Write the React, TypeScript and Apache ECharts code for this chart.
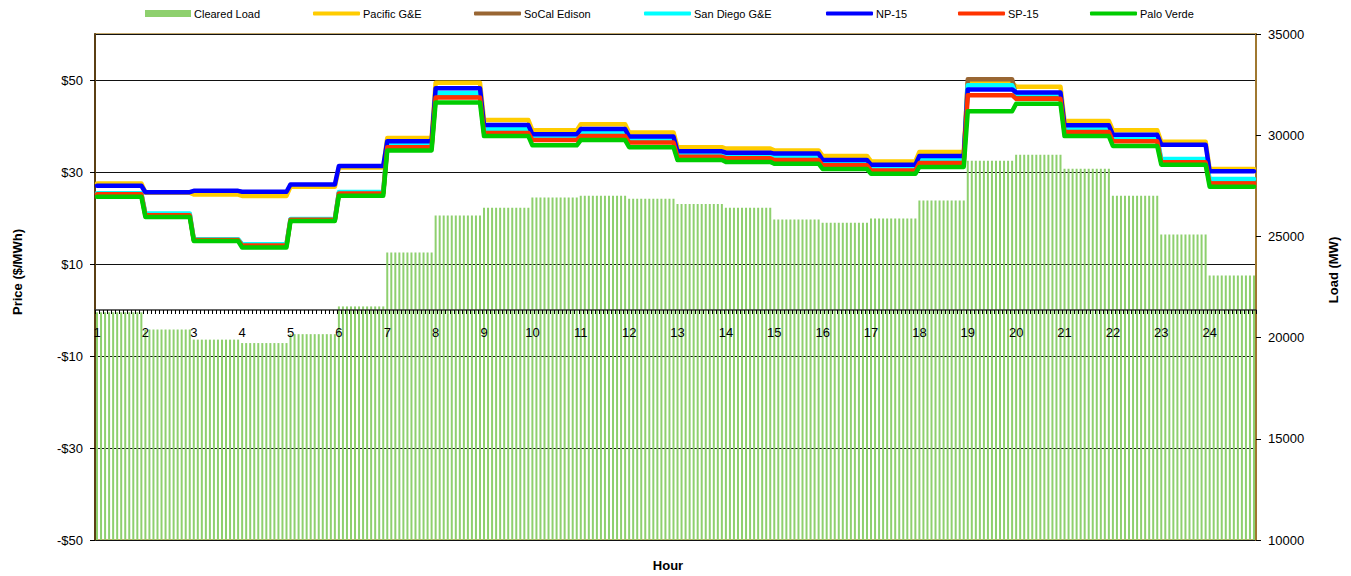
import React, { useEffect, useRef } from "react";
import * as echarts from "echarts";

// ---- data (hourly) ----
const HOURS = ["1", "2", "3", "4", "5", "6", "7", "8", "9", "10", "11", "12", "13", "14", "15", "16", "17", "18", "19", "20", "21", "22", "23", "24"];
const SLOTS_PER_HOUR = 12; // 5-minute intervals

const clearedLoad = [21250, 20400, 19900, 19730, 20170, 21540, 24200, 26030, 26420, 26920, 27010, 26860, 26600, 26420, 25840, 25680, 25880, 26770, 28740, 29030, 28340, 27010, 25090, 23070];
const pacificGE = [27.5, 25.5, 25.1, 24.8, 26.8, 31.0, 37.4, 49.4, 41.3, 39.05, 40.4, 38.6, 35.4, 35.1, 34.7, 33.5, 32.3, 34.35, 49.4, 48.55, 41.1, 39.05, 36.6, 30.65];
const soCalEdison = [25.2, 20.8, 15.3, 14.2, 19.7, 25.5, 35.7, 46.8, 38.9, 37.2, 38.2, 36.7, 33.6, 33.3, 32.9, 31.7, 30.6, 32.3, 50.15, 46.3, 39.0, 37.0, 32.4, 28.0];
const sanDiegoGE = [25.4, 21.0, 15.4, 14.3, 19.8, 25.65, 35.95, 47.2, 39.3, 37.5, 38.6, 36.95, 33.9, 33.65, 33.2, 31.96, 30.9, 32.6, 48.85, 47.0, 39.4, 37.4, 32.8, 28.5];
const np15 = [27.0, 25.6, 25.9, 25.7, 27.3, 31.3, 36.7, 48.2, 40.2, 38.2, 39.35, 37.7, 34.5, 34.2, 34.0, 32.6, 31.6, 33.5, 47.95, 47.3, 40.15, 38.1, 35.95, 30.15];
const sp15 = [25.15, 20.6, 15.2, 14.0, 19.6, 25.3, 35.4, 46.2, 38.5, 36.95, 37.8, 36.4, 33.3, 33.0, 32.6, 31.45, 30.35, 31.96, 46.7, 45.9, 38.7, 36.7, 32.1, 27.5];
const paloVerde = [24.6, 20.2, 15.0, 13.6, 19.35, 24.85, 34.7, 45.1, 37.8, 35.8, 36.95, 35.4, 32.6, 32.2, 31.8, 30.65, 29.6, 31.1, 43.2, 44.85, 37.8, 35.65, 31.6, 26.8];

const PRICE_TICKS_FROM = -50; // left axis labels at -50, -30, ..., 50

const FONT = "Liberation Sans, Arial, sans-serif";

// expand hourly values to 5-minute slots (each hour's value held for its 12 slots)
const toSlots = (hourly: number[]) => hourly.flatMap((v) => Array(SLOTS_PER_HOUR).fill(v));
const categories = HOURS.flatMap((h) => [h, ...Array(SLOTS_PER_HOUR - 1).fill("")]);

const fmtPrice = (v: number) => (v < 0 ? "-$" + Math.abs(v) : "$" + v);

const LINE_SERIES = [
  { name: "Pacific G&E", data: pacificGE, color: "#FFCC00" },
  { name: "SoCal Edison", data: soCalEdison, color: "#996633" },
  { name: "San Diego G&E", data: sanDiegoGE, color: "#00FFFF" },
  { name: "NP-15", data: np15, color: "#0000FF" },
  { name: "SP-15", data: sp15, color: "#FF3300" },
  { name: "Palo Verde", data: paloVerde, color: "#00CC00" },
];

const LEGENDS = [
  { name: "Cleared Load", left: 145, icon: "rect", w: 46, h: 7 },
  { name: "Pacific G&E", left: 313, icon: "roundRect", w: 47, h: 4 },
  { name: "SoCal Edison", left: 474, icon: "roundRect", w: 47, h: 4 },
  { name: "San Diego G&E", left: 644, icon: "roundRect", w: 47, h: 4 },
  { name: "NP-15", left: 826, icon: "roundRect", w: 47, h: 4 },
  { name: "SP-15", left: 958, icon: "roundRect", w: 47, h: 4 },
  { name: "Palo Verde", left: 1090, icon: "roundRect", w: 47, h: 4 },
];

export default function App() {
  const ref = useRef<HTMLDivElement>(null);

  useEffect(() => {
    document.body.style.margin = "0";
    if (!ref.current) return;
    const chart = echarts.init(ref.current, undefined, { renderer: "svg" });

    const option: any = {
      animation: false,
      backgroundColor: "#fff",
      textStyle: { fontFamily: FONT },
      legend: LEGENDS.map((l) => ({
        data: [l.name],
        left: l.left,
        top: 8,
        icon: l.icon,
        itemWidth: l.w,
        itemHeight: l.h,
        padding: 0,
        selectedMode: false,
        textStyle: { fontFamily: FONT, fontSize: 11, color: "#000", padding: [0, 0, 0, -2] },
      })),
      grid: {
        left: 95,
        right: 95,
        top: 34,
        bottom: 36,
        show: true,
        borderColor: "#B08A3E",
        borderWidth: 1.5,
        backgroundColor: "transparent",
      },
      xAxis: [
        {
          type: "category",
          data: categories,
          boundaryGap: true,
          z: 10,
          axisLine: { onZero: true, onZeroAxisIndex: 0, lineStyle: { color: "#333", width: 1.5 } },
          axisTick: { show: true, interval: 0, length: 4, lineStyle: { color: "#000", width: 1 } },
          axisLabel: { show: false },
          splitLine: { show: false },
        },
        {
          // hour labels placed just under the zero line
          type: "category",
          data: categories,
          boundaryGap: true,
          position: "bottom",
          offset: -230,
          z: 10,
          axisLine: { show: false, onZero: false },
          axisTick: { show: false },
          axisLabel: { interval: 0, margin: 16, fontSize: 13, color: "#000", fontFamily: FONT },
          splitLine: { show: false },
        },
      ],
      yAxis: [
        {
          // price scale used by the lines (hidden; labels drawn by the axis below)
          type: "value",
          min: -50,
          max: 60,
          show: false,
          splitLine: { show: false },
        },
        {
          type: "value",
          position: "right",
          min: 10000,
          max: 35000,
          interval: 5000,
          axisLine: { show: true, lineStyle: { color: "#A07830", width: 2 } },
          axisTick: { show: true, length: 5, lineStyle: { color: "#000" } },
          axisLabel: { margin: 12, fontSize: 13, color: "#000", fontFamily: FONT, formatter: (v: number) => String(v) },
          splitLine: { show: false },
        },
        {
          // label axis for price: 0..110 maps to -50..60
          type: "value",
          position: "left",
          min: 0,
          max: 110,
          interval: 20,
          axisLine: { show: true, lineStyle: { color: "#5A3F14", width: 2 } },
          axisTick: { show: true, length: 5, lineStyle: { color: "#000" } },
          axisLabel: {
            margin: 12,
            fontSize: 13,
            color: "#000",
            fontFamily: FONT,
            showMaxLabel: false,
            formatter: (v: number) => (v > 100 ? "" : fmtPrice(v + PRICE_TICKS_FROM)),
          },
          splitLine: { show: true, lineStyle: { color: "#111", width: 1 } },
        },
      ],
      series: [
        {
          name: "Cleared Load",
          type: "bar",
          yAxisIndex: 1,
          data: toSlots(clearedLoad),
          barWidth: 2,
          itemStyle: { color: "#8ED06E" },
          z: 2,
        },
        ...LINE_SERIES.map((s, i) => ({
          name: s.name,
          type: "line",
          yAxisIndex: 0,
          data: toSlots(s.data),
          showSymbol: false,
          symbol: "none",
          color: s.color,
          lineStyle: { color: s.color, width: 4.5, cap: "round", join: "round" },
          z: 3 + i,
        })),
      ],
      graphic: [
        {
          type: "text",
          x: 17,
          y: 272,
          rotation: Math.PI / 2,
          style: { text: "Price ($/MWh)", font: `bold 13px ${FONT}`, fill: "#000", textAlign: "center", textVerticalAlign: "middle" },
        },
        {
          type: "text",
          x: 1333,
          y: 270,
          rotation: Math.PI / 2,
          style: { text: "Load (MW)", font: `bold 13px ${FONT}`, fill: "#000", textAlign: "center", textVerticalAlign: "middle" },
        },
        {
          type: "text",
          x: 668,
          y: 565,
          style: { text: "Hour", font: `bold 13px ${FONT}`, fill: "#000", textAlign: "center", textVerticalAlign: "middle" },
        },
      ],
    };

    chart.setOption(option);
    return () => chart.dispose();
  }, []);

  return <div ref={ref} style={{ width: 1351, height: 576, overflow: "hidden" }} />;
}
